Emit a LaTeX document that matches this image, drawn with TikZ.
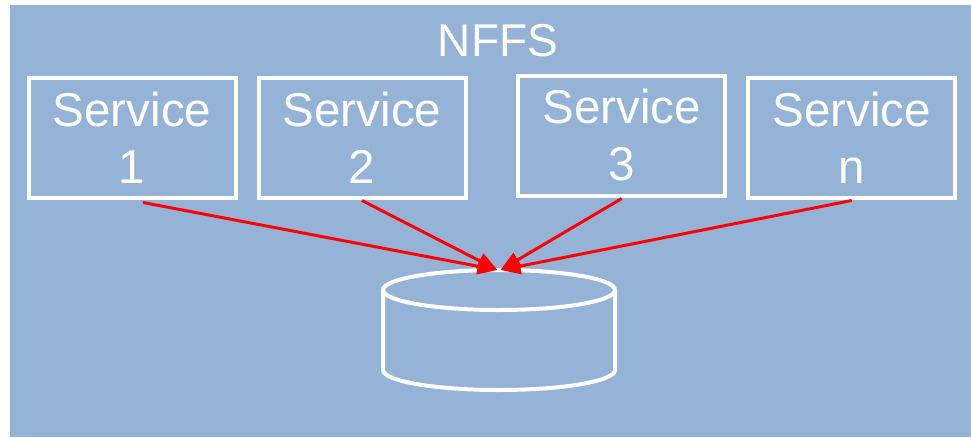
\documentclass[tikz,border=0pt]{standalone}
\usepackage{fontspec}
\setmainfont{Liberation Sans}
\usetikzlibrary{arrows.meta}
\definecolor{bgblue}{RGB}{148,179,214}
\begin{document}
\begin{tikzpicture}[x=1pt,y=-1pt,
  svc/.style={draw=white,line width=4pt,minimum width=207pt,minimum height=120pt,inner sep=0pt,
    text=white,align=center,font=\fontsize{47.5}{57}\selectfont},
  link/.style={draw=red,line width=3pt,-{Triangle[length=20pt,width=16pt]}},
  title/.style={text=white,font=\fontsize{46}{55}\selectfont,inner sep=0pt}]
\useasboundingbox (0,0) rectangle (971,437);
\fill[white] (0,0) rectangle (971,437);
\fill[bgblue] (9.5,5) rectangle (971,437);
\node[title] (nffs) at (498,41) {NFFS};
\node[svc] (s1) at (132,137.5) {Service\\1};
\node[svc] (s2) at (362,137.5) {Service\\2};
\node[svc] (s3) at (621.75,135.5) {Service\\3};
\node[svc] (sn) at (851.75,137.5) {Service\\n};
% database cylinder
\draw[white,line width=4pt] (499,290) ellipse [x radius=116, y radius=20];
\draw[white,line width=4pt] (383,290) -- (383,370) arc[start angle=180,end angle=360,x radius=116,y radius=-20] -- (615,290);
\coordinate (dbl) at (497.5,270);
\coordinate (dbr) at (500.5,270);
\draw[link] ([xshift=11pt,yshift=-3pt]s1.south) -- (dbl);
\draw[link] ([yshift=-1pt]s2.south) -- (dbl);
\draw[link] ([yshift=-1pt]s3.south) -- (dbr);
\draw[link] ([yshift=-1pt]sn.south) -- (dbr);
\end{tikzpicture}
\end{document}
